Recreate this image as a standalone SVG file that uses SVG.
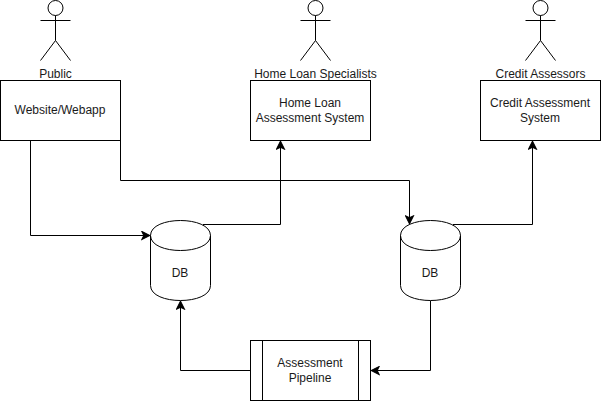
<svg xmlns="http://www.w3.org/2000/svg" width="601" height="401" viewBox="0 0 601 401">
<style>
.s{fill:none;stroke:#000;stroke-width:1;stroke-miterlimit:10}
.b{fill:#fff;stroke:#000;stroke-width:1;stroke-miterlimit:10}
.c{fill:none;stroke:#000;stroke-width:1;stroke-miterlimit:10;marker-end:url(#a)}
text{font-family:"Liberation Sans",Arial,Helvetica,sans-serif;font-size:12px;fill:#1a1a1a;text-anchor:middle}
</style>
<defs>
<marker id="a" markerUnits="userSpaceOnUse" markerWidth="10" markerHeight="10" viewBox="-1 -1 9 9" refX="1.75" refY="3.5" orient="auto">
<path d="M0 0L7 3.5L0 7L1.75 3.5Z" fill="#000" stroke="#000" stroke-width="1"/>
</marker>
</defs>
<rect width="601" height="401" fill="#fff"/>
<g id="connectors">
<path class="c" d="M30.5 140.5V235.5H143.87"/>
<path class="c" d="M120.5 140.5V180.5H409.5V217.87"/>
<path class="c" d="M203 224.5H280.5V147.13"/>
<path class="c" d="M453 224.5H532.5V147.13"/>
<path class="c" d="M430.5 300.5V370.5H377.13"/>
<path class="c" d="M250.5 370.5H180.5V307.13"/>
</g>
<g id="actor-public">
<circle class="b" cx="55.5" cy="8" r="7.5"/>
<path class="s" d="M55.5 15.5V40.5M40.5 20.5H70.5M40.5 60.5L55.5 40.5L70.5 60.5"/>
<text x="55.5" y="78">Public</text>
</g>
<g id="actor-home-loan">
<circle class="b" cx="315.5" cy="8" r="7.5"/>
<path class="s" d="M315.5 15.5V40.5M300.5 20.5H330.5M300.5 60.5L315.5 40.5L330.5 60.5"/>
<text x="315.5" y="78">Home Loan Specialists</text>
</g>
<g id="actor-credit">
<circle class="b" cx="540.5" cy="8" r="7.5"/>
<path class="s" d="M540.5 15.5V40.5M525.5 20.5H555.5M525.5 60.5L540.5 40.5L555.5 60.5"/>
<text x="540.5" y="78">Credit Assessors</text>
</g>
<g id="website">
<rect class="s" x="0.5" y="80.5" width="120" height="60"/>
<text x="60" y="114">Website/Webapp</text>
</g>
<g id="home-loan-system">
<rect class="s" x="250.5" y="80.5" width="120" height="60"/>
<text x="310" y="107">Home Loan</text>
<text x="310" y="122">Assessment System</text>
</g>
<g id="credit-system">
<rect class="s" x="480.5" y="80.5" width="120" height="60"/>
<text x="540" y="107">Credit Assessment</text>
<text x="540" y="122">System</text>
</g>
<g id="db-left">
<path class="b" d="M150.5 235.5C150.5 215.5 210.5 215.5 210.5 235.5V285.5C210.5 305.5 150.5 305.5 150.5 285.5Z"/>
<path class="s" d="M150.5 235.5C150.5 255.5 210.5 255.5 210.5 235.5"/>
<text x="180" y="277">DB</text>
</g>
<g id="db-right">
<path class="b" d="M400.5 235.5C400.5 215.5 460.5 215.5 460.5 235.5V285.5C460.5 305.5 400.5 305.5 400.5 285.5Z"/>
<path class="s" d="M400.5 235.5C400.5 255.5 460.5 255.5 460.5 235.5"/>
<text x="430" y="277">DB</text>
</g>
<g id="pipeline">
<rect class="s" x="250.5" y="340.5" width="120" height="60"/>
<path class="s" d="M262.5 340.5V400.5M358.5 340.5V400.5"/>
<text x="310" y="367">Assessment</text>
<text x="310" y="382">Pipeline</text>
</g>
</svg>
